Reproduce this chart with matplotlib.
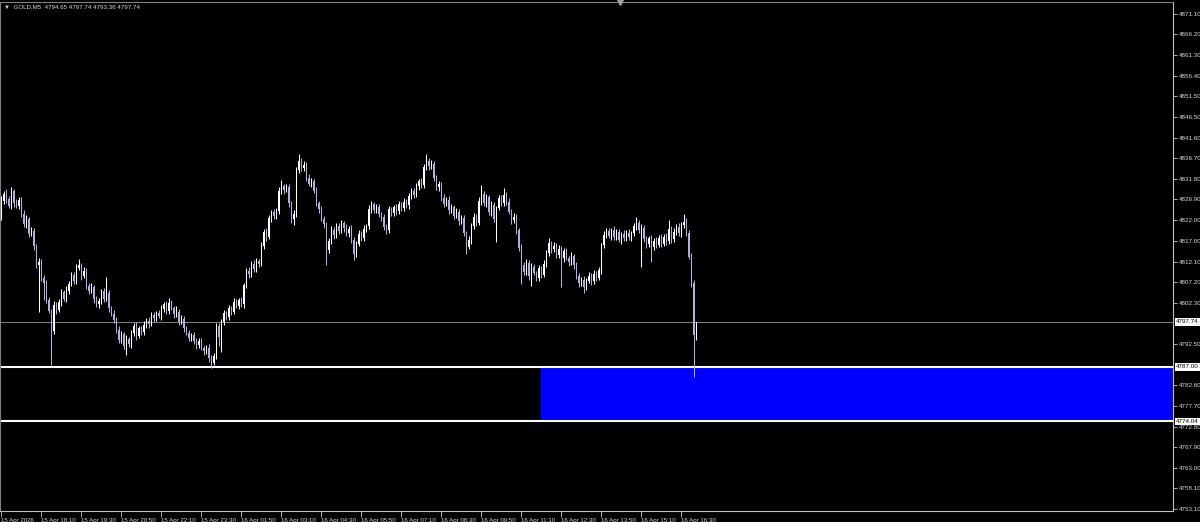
import numpy as np
import matplotlib
matplotlib.use("Agg")
import matplotlib.pyplot as plt
import matplotlib.transforms as mtransforms
from matplotlib.patches import Rectangle

plt.rcParams["font.family"] = ["Liberation Sans", "DejaVu Sans"]

# GOLD M5 closes (bar 0 = 15 Apr 16:50)
first_open = 4824.0
closes = [
    4826.5, 4828.2, 4827.0, 4825.4, 4828.9, 4826.1, 4825.3, 4826.8, 4823.5, 4821.0,
    4822.2, 4818.6, 4819.4, 4815.8, 4811.2, 4812.0, 4808.3, 4806.9, 4803.0, 4800.4,
    4795.6, 4801.8, 4800.6, 4802.4, 4804.9, 4803.1, 4805.2, 4806.8, 4808.9, 4807.5,
    4810.6, 4811.2, 4808.7, 4809.9, 4806.4, 4805.1, 4806.0, 4803.2, 4801.9, 4802.8,
    4805.0, 4803.3, 4804.6, 4801.0, 4799.6, 4798.2, 4795.9, 4793.4, 4794.8, 4792.0,
    4793.6, 4792.4, 4795.0, 4796.8, 4794.4, 4796.2, 4795.3, 4797.1, 4798.0, 4797.3,
    4799.4, 4798.6, 4799.9, 4799.2, 4800.8, 4801.9, 4800.4, 4802.2, 4801.1, 4799.5,
    4800.2, 4797.8, 4798.5, 4796.3, 4795.0, 4793.9, 4794.6, 4793.1, 4792.3, 4793.2,
    4791.6, 4790.7, 4791.5, 4789.2, 4788.0, 4789.6, 4796.8, 4794.1, 4797.6, 4799.8,
    4798.9, 4801.0, 4800.2, 4802.5, 4801.6, 4802.9, 4802.0, 4806.5, 4809.8, 4809.1,
    4811.6, 4810.4, 4812.3, 4811.5, 4815.9, 4819.2, 4818.0, 4822.4, 4823.8, 4822.9,
    4824.2, 4828.9, 4830.0, 4829.1, 4829.8, 4826.0, 4822.3, 4823.5, 4833.9, 4836.0,
    4834.4, 4835.2, 4832.1, 4830.6, 4831.3, 4828.9, 4826.0, 4824.6, 4822.3, 4821.0,
    4814.8, 4816.9, 4819.6, 4818.4, 4820.6, 4819.3, 4821.2, 4820.1, 4818.8, 4819.9,
    4817.2, 4814.0, 4816.3, 4818.6, 4817.8, 4819.9, 4820.5, 4824.6, 4825.8, 4824.3,
    4825.1, 4823.4, 4822.6, 4820.4, 4819.6, 4824.5, 4823.7, 4825.0, 4824.1, 4825.8,
    4824.9, 4826.4, 4825.5, 4827.6, 4828.9, 4828.0, 4830.1, 4831.2, 4830.4, 4834.6,
    4836.1, 4834.9, 4835.4, 4832.0, 4829.8, 4830.5, 4827.2, 4825.9, 4826.8, 4824.3,
    4825.0, 4823.0, 4823.9, 4821.8, 4822.5, 4818.9, 4815.6, 4817.2, 4820.6, 4822.8,
    4821.4, 4826.5, 4828.3, 4826.0, 4827.4, 4823.8, 4825.6, 4822.2, 4824.9, 4827.2,
    4826.1, 4828.0, 4826.4, 4824.0, 4821.9, 4822.8, 4819.5, 4815.3, 4811.4, 4809.6,
    4811.8, 4808.7, 4810.9, 4809.4, 4808.2, 4810.5, 4809.0, 4811.6, 4814.2, 4816.5,
    4815.0, 4815.9, 4813.7, 4815.2, 4812.9, 4814.6, 4813.0, 4811.9, 4813.4, 4811.2,
    4808.6, 4806.9, 4807.8, 4806.1, 4807.5, 4808.7, 4807.4, 4809.2, 4808.3, 4810.0,
    4816.0, 4818.4, 4819.3, 4818.2, 4819.6, 4818.0, 4819.1, 4817.3, 4818.6, 4817.7,
    4819.0, 4817.9, 4818.8, 4820.5, 4821.4, 4819.6, 4820.2, 4817.4, 4816.2, 4817.6,
    4815.5, 4817.0, 4816.1, 4817.8, 4816.4, 4818.0, 4816.9, 4819.9, 4817.5, 4819.2,
    4820.4, 4818.8, 4820.9, 4821.6, 4819.0, 4813.2, 4807.0, 4794.65, 4797.74,
]
# wick lengths above / below the body
wick_up = [
    1.2, 0.8, 1.1, 0.6, 1.0, 0.5, 0.9, 0.7, 0.6, 0.8,
    0.9, 0.5, 1.0, 0.7, 0.6, 0.9, 0.8, 0.5, 0.7, 0.6,
    0.5, 0.8, 0.6, 0.9, 0.7, 0.5, 1.0, 0.6, 0.8, 0.7,
    0.9, 1.6, 0.6, 0.8, 0.7, 0.5, 0.9, 0.6, 0.8, 0.7,
    0.6, 0.8, 3.8, 0.7, 0.5, 0.9, 0.6, 0.8, 0.7, 0.5,
    0.9, 0.6, 0.8, 0.7, 1.0, 0.6, 0.5, 0.8, 0.7, 0.9,
    0.6, 0.8, 0.5, 0.7, 0.9, 0.6, 0.8, 1.2, 0.7, 0.5,
    1.4, 0.6, 0.8, 0.7, 0.5, 0.9, 0.6, 0.8, 0.7, 0.6,
    0.8, 0.5, 0.7, 0.9, 0.6, 0.8, 0.7, 0.6, 0.9, 0.7,
    0.5, 0.8, 0.6, 0.9, 0.7, 0.6, 0.8, 0.5, 0.7, 0.9,
    0.6, 0.8, 0.7, 0.5, 0.9, 0.6, 0.8, 0.7, 0.6, 0.8,
    0.7, 0.9, 1.5, 0.6, 0.8, 0.7, 0.5, 0.9, 0.8, 1.6,
    0.7, 0.9, 0.6, 0.8, 0.7, 0.5, 0.9, 0.6, 0.8, 0.7,
    0.6, 0.8, 0.9, 0.7, 0.6, 0.8, 0.7, 0.5, 0.9, 0.6,
    0.8, 0.7, 0.6, 0.9, 0.7, 0.8, 0.6, 0.9, 0.7, 0.6,
    0.8, 0.7, 0.5, 0.9, 0.6, 0.8, 0.7, 0.6, 0.9, 0.7,
    0.6, 0.8, 0.7, 0.9, 0.6, 0.8, 0.7, 0.5, 0.9, 0.8,
    1.6, 0.7, 0.9, 0.6, 0.8, 0.7, 0.5, 0.9, 0.6, 0.8,
    0.7, 0.6, 0.9, 0.7, 0.8, 0.6, 0.5, 0.9, 0.7, 0.8,
    0.6, 0.9, 2.1, 0.7, 0.8, 0.6, 0.9, 0.7, 0.5, 0.8,
    0.7, 1.6, 0.6, 0.9, 0.7, 0.8, 0.6, 0.5, 0.9, 0.7,
    0.8, 0.6, 0.9, 0.7, 0.5, 0.8, 0.6, 0.9, 0.7, 1.3,
    0.6, 0.8, 0.7, 0.9, 0.6, 0.8, 0.7, 0.5, 0.9, 0.6,
    0.8, 0.7, 0.6, 0.9, 0.7, 0.8, 0.6, 0.9, 0.7, 0.8,
    0.6, 0.9, 0.7, 0.8, 0.6, 0.9, 0.7, 0.8, 0.6, 0.9,
    0.7, 0.8, 0.6, 0.9, 1.4, 0.7, 0.8, 0.6, 0.9, 0.7,
    0.8, 0.6, 0.9, 0.7, 0.8, 0.6, 0.9, 2.2, 0.7, 0.8,
    0.6, 0.9, 0.7, 1.8, 0.8, 0.6, 0.9, 0.8, 0.0,
]
wick_dn = [
    2.0, 0.7, 0.9, 0.6, 0.8, 1.0, 0.5, 0.7, 0.9, 0.6,
    0.8, 0.7, 0.5, 0.9, 0.6, 11.0, 0.8, 3.9, 0.7, 0.6,
    8.2, 0.7, 0.9, 0.6, 0.8, 0.5, 0.7, 0.9, 0.6, 0.8,
    0.7, 0.5, 0.9, 0.6, 0.8, 0.7, 0.5, 0.9, 0.6, 0.8,
    0.7, 0.9, 0.6, 0.8, 0.5, 0.7, 0.9, 0.6, 0.8, 0.7,
    2.2, 0.6, 0.8, 0.7, 0.9, 0.5, 0.8, 0.6, 0.7, 0.9,
    0.6, 0.8, 0.7, 0.5, 0.9, 0.6, 0.8, 0.7, 0.6, 0.9,
    0.7, 0.8, 0.6, 0.9, 0.5, 0.7, 0.8, 0.6, 0.9, 0.7,
    0.6, 0.8, 0.7, 0.9, 1.2, 0.6, 0.8, 2.0, 3.6, 0.7,
    0.8, 0.6, 0.9, 0.7, 0.5, 0.8, 0.6, 0.9, 0.7, 0.8,
    0.6, 0.9, 0.7, 0.8, 0.5, 0.7, 0.9, 0.6, 0.8, 0.7,
    0.6, 0.8, 0.7, 0.9, 0.5, 0.8, 1.0, 1.5, 0.7, 0.6,
    0.8, 0.7, 0.9, 0.6, 0.8, 0.5, 0.7, 0.9, 0.6, 0.8,
    3.5, 0.7, 0.6, 0.9, 0.8, 0.7, 0.5, 0.9, 0.6, 0.8,
    0.7, 1.5, 0.8, 0.6, 0.9, 0.7, 0.8, 0.6, 0.9, 0.7,
    0.6, 0.8, 0.9, 0.7, 1.0, 0.6, 0.8, 0.7, 0.9, 0.6,
    0.8, 0.7, 0.6, 0.9, 0.7, 0.8, 0.6, 0.9, 0.7, 0.8,
    0.6, 0.9, 0.7, 0.8, 0.6, 0.9, 0.7, 0.8, 0.6, 0.9,
    0.7, 0.8, 0.6, 0.9, 0.7, 0.8, 1.7, 0.6, 0.9, 0.7,
    0.8, 0.6, 0.9, 0.7, 0.8, 0.6, 0.9, 0.7, 5.4, 0.6,
    0.8, 0.7, 0.9, 0.6, 0.8, 0.7, 0.9, 0.6, 4.7, 0.8,
    0.7, 0.9, 2.5, 0.6, 0.8, 0.7, 0.9, 0.6, 0.8, 0.7,
    0.9, 0.6, 0.8, 0.7, 6.9, 0.8, 0.6, 0.9, 0.7, 0.8,
    0.6, 0.9, 0.7, 1.5, 0.8, 0.6, 0.9, 0.7, 0.8, 0.6,
    0.9, 0.7, 0.8, 0.6, 0.9, 0.7, 0.8, 0.6, 0.9, 0.7,
    0.8, 0.6, 0.9, 0.7, 0.8, 0.6, 8.8, 0.7, 0.9, 0.6,
    3.5, 0.7, 0.8, 0.6, 0.9, 0.7, 0.8, 0.6, 0.9, 0.7,
    0.8, 0.6, 0.9, 0.7, 0.8, 0.6, 0.9, 10.15, 1.29,
]

# horizontal levels and the zone
bid_price = 4797.74
zone_top = 4787.00
zone_bottom = 4774.04
zone_start = 215.8  # bar index where the blue box starts

# price scale labels as MT4 prints them
ytick_vals = [4871.10, 4866.20, 4861.30, 4856.40, 4851.50, 4846.50, 4841.60,
              4836.70, 4831.80, 4826.90, 4822.00, 4817.00, 4812.10, 4807.20,
              4802.30, 4792.50, 4782.60, 4777.70, 4772.80, 4767.90,
              4763.00, 4758.10, 4753.10]
xtick_labels = ["15 Apr 2026", "15 Apr 18:10", "15 Apr 19:30", "15 Apr 20:50",
                "15 Apr 22:10", "15 Apr 23:30", "16 Apr 01:50", "16 Apr 03:10",
                "16 Apr 04:30", "16 Apr 05:50", "16 Apr 07:10", "16 Apr 08:30",
                "16 Apr 09:50", "16 Apr 11:10", "16 Apr 12:30", "16 Apr 13:50",
                "16 Apr 15:10", "16 Apr 16:30"]
bars_per_label = 16
title = "\u25bc  GOLD,M5  4794.65 4797.74 4793.36 4797.74"

closes = np.array(closes)
opens = np.concatenate([[first_open], closes[:-1]])
highs = np.maximum(opens, closes) + np.array(wick_up)
lows = np.minimum(opens, closes) - np.array(wick_dn)
x = np.arange(len(closes))

bull_col = "#ffffff"
bear_col = "#b0b0dc"
axis_col = "#c0c0c0"
text_col = "#d8d8d8"
colors = [bull_col if c >= o else bear_col for o, c in zip(opens, closes)]

fig = plt.figure(figsize=(12, 5.22), dpi=100, facecolor="black")
ax = fig.add_axes([0.0, 11 / 522, 1173 / 1200, 509 / 522])
ax.set_facecolor("black")

# zone box and level lines
ax.add_patch(Rectangle((zone_start, zone_bottom), 1000, zone_top - zone_bottom,
                       facecolor="#0000ff", edgecolor="none", zorder=1))
ax.axhline(zone_top, color="white", lw=1.5, zorder=2)
ax.axhline(zone_bottom, color="white", lw=1.5, zorder=2)
ax.axhline(bid_price, color="#7a7a7a", lw=0.8, zorder=2)

# candles
ax.vlines(x, lows, highs, colors=colors, lw=0.75, zorder=3)
ax.bar(x, np.abs(closes - opens), bottom=np.minimum(opens, closes), width=0.78,
       color=colors, linewidth=0, zorder=4)

ax.set_xlim(-0.6, 468.6)
ax.set_ylim(4752.71, 4873.90)

# axes styling
for side in ["left", "top"]:
    ax.spines[side].set_color("#808080")
    ax.spines[side].set_linewidth(0.8)
for side in ["right", "bottom"]:
    ax.spines[side].set_color(axis_col)
    ax.spines[side].set_linewidth(0.8)

ax.yaxis.tick_right()
ax.set_yticks(ytick_vals)
ax.set_yticklabels([f"{v:.2f}" for v in ytick_vals])
ax.tick_params(axis="y", colors=axis_col, labelcolor=text_col, length=3,
               width=0.6, pad=1.5, labelsize=4.5, direction="out")

ax.set_xticks(np.arange(len(xtick_labels)) * bars_per_label)
ax.set_xticklabels(xtick_labels, ha="left")
ax.tick_params(axis="x", colors=axis_col, labelcolor=text_col, length=4,
               width=0.6, pad=1, labelsize=4.4, direction="out")

# price boxes on the scale
trans = mtransforms.blended_transform_factory(ax.transAxes, ax.transData)
for val in [bid_price, zone_top, zone_bottom]:
    ax.text(1.0028, val, f"{val:.2f}", transform=trans, ha="left", va="center",
            fontsize=4.5, color="black", clip_on=False, zorder=10,
            bbox=dict(boxstyle="square,pad=0.2", fc="white", ec="none"))

# chart shift marker
ax.plot([620 / 1173], [1.0], marker="v", ms=4, color="#a0a0a0",
        transform=ax.transAxes, clip_on=False, zorder=10)

fig.text(4 / 1200, 1 - 7 / 522, title, color=text_col, fontsize=4.4,
         ha="left", va="center")

fig.savefig("out.png", dpi=100, facecolor="black")
